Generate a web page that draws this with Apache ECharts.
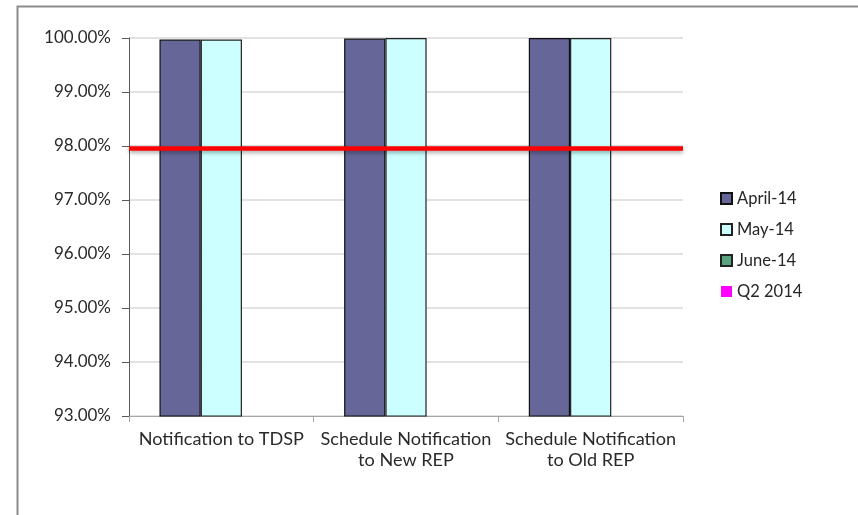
<!DOCTYPE html>
<html>
<head>
<meta charset="utf-8">
<script src="https://cdn.jsdelivr.net/npm/echarts@6/dist/echarts.min.js"></script>
<style>html,body{margin:0;padding:0;background:#fff}#c{width:858px;height:515px}</style>
</head>
<body>
<div id="c"></div>
<script>
const categories = ['Notification to TDSP', 'Schedule Notification\nto New REP', 'Schedule Notification\nto Old REP'];
const april14 = [99.97, 99.99, 100.0];
const may14 = [99.97, 100.0, 100.0];
const june14 = [null, null, null];
const q22014 = [null, null, null];
const yTicks = { min: 93, max: 100, interval: 1 };
const target = 97.95;

const chart = echarts.init(document.getElementById('c'), null, { renderer: 'canvas' });
const font = 'Lato, "Open Sans", sans-serif';
chart.setOption({
  animation: false,
  backgroundColor: '#fff',
  graphic: [{
    type: 'rect', left: 15, top: 4, z: -10,
    shape: { width: 900, height: 600 },
    style: { fill: 'none', stroke: '#8c8c8c', lineWidth: 2 }
  }],
  grid: { left: 129, top: 38, right: 175, bottom: 99 },
  legend: {
    orient: 'vertical', left: 715, top: 185,
    itemWidth: 11, itemHeight: 11, itemGap: 14,
    textStyle: { fontFamily: font, fontSize: 16.5, color: '#262626' },
    data: [
      { name: 'April-14', icon: 'rect' },
      { name: 'May-14', icon: 'rect' },
      { name: 'June-14', icon: 'rect' },
      { name: 'Q2 2014', icon: 'rect', itemStyle: { color: '#ff00ff', borderWidth: 0 } }
    ]
  },
  xAxis: {
    type: 'category', data: categories,
    axisLine: { lineStyle: { color: '#a6a6a6', width: 1 } },
    axisTick: { show: true, length: 6, lineStyle: { color: '#a6a6a6' } },
    axisLabel: { fontFamily: font, fontSize: 18.1, color: '#2a2a2a', lineHeight: 21, margin: 13, interval: 0 }
  },
  yAxis: {
    type: 'value', min: yTicks.min, max: yTicks.max, interval: yTicks.interval,
    axisLine: { show: true, lineStyle: { color: '#595959', width: 1 } },
    axisTick: { show: true, length: 7, lineStyle: { color: '#595959' } },
    axisLabel: { fontFamily: font, fontSize: 17, color: '#2a2a2a', margin: 18,
      formatter: v => v.toFixed(2) + '%' },
    splitLine: { lineStyle: { color: '#d9d9d9', width: 1.5 } }
  },
  series: [
    { name: 'April-14', type: 'bar', data: april14, barGap: '0%', barCategoryGap: '33%',
      itemStyle: { color: '#666699', borderColor: '#111', borderWidth: 1.2 },
      markLine: {
        symbol: 'none', silent: true, label: { show: false },
        lineStyle: { color: '#ff0000', width: 4.5, type: 'solid',
          shadowColor: 'rgba(0,0,0,0.35)', shadowBlur: 4, shadowOffsetY: 2 },
        data: [{ yAxis: target }]
      }
    },
    { name: 'May-14', type: 'bar', data: may14,
      itemStyle: { color: '#ccffff', borderColor: '#222', borderWidth: 1.2 } },
    { name: 'June-14', type: 'bar', data: june14,
      itemStyle: { color: '#5aa37f', borderColor: '#222', borderWidth: 1.2 } },
    { name: 'Q2 2014', type: 'line', data: q22014, symbol: 'none',
      itemStyle: { color: '#ff00ff' }, lineStyle: { color: '#ff00ff' } }
  ]
});
</script>
</body>
</html>
